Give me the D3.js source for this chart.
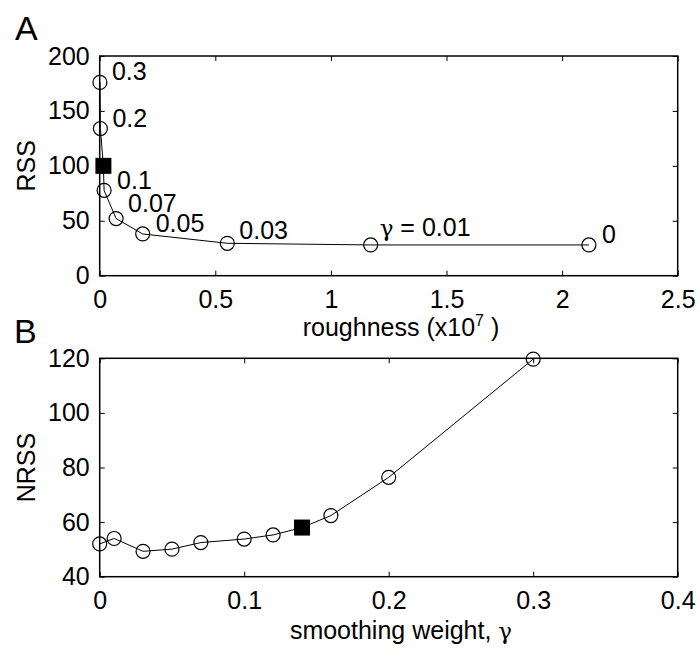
<!DOCTYPE html>
<html>
<head>
<meta charset="utf-8">
<script src="https://cdn.jsdelivr.net/npm/d3@7"></script>
<style>
  html, body { margin: 0; padding: 0; background: #fff; }
  svg { display: block; font-family: "Liberation Sans", Arial, Helvetica, sans-serif; }
  .tick text { font-size: 25px; fill: #000; }
  .tick line { stroke: #000; stroke-width: 1; }
  .domain { display: none; }
</style>
</head>
<body>
<svg id="fig" width="700" height="649"></svg>
<script>
// Panel A: RSS versus roughness for a range of smoothing weights
const gammaA    = [0.3, 0.2, 0.14, 0.1, 0.07, 0.05, 0.03, 0.01, 0];
const roughness = [0.001, 0.003, 0.016, 0.019, 0.071, 0.186, 0.552, 1.172, 2.116]; // x10^7
const rss       = [176, 134, 100, 77.7, 52, 38, 29.5, 28, 28];
const labelsA   = ["0.3", "0.2", "", "0.1", "0.07", "0.05", "0.03", "0.01", "0"];

// Panel B: NRSS versus smoothing weight
const gammaB = [0, 0.01, 0.03, 0.05, 0.07, 0.1, 0.12, 0.14, 0.16, 0.2, 0.3];
const nrss   = [52, 54, 49.3, 50.1, 52.5, 53.8, 55.3, 58, 62.4, 76.4, 119.7];

// chosen smoothing weight (filled square)
const chosenGamma = 0.14;

// tick values
const ticksAx = [0, 0.5, 1, 1.5, 2, 2.5];
const ticksAy = [0, 50, 100, 150, 200];
const ticksBx = [0, 0.1, 0.2, 0.3, 0.4];
const ticksBy = [40, 60, 80, 100, 120];

const svg = d3.select("#fig");
const fmt = d3.format("~g");

const left = 99.7, right = 677.7;
const xA = d3.scaleLinear().domain([0, 2.5]).range([left, right]);
const yA = d3.scaleLinear().domain([0, 200]).range([275.7, 56]);
const xB = d3.scaleLinear().domain([0, 0.4]).range([left, right]);
const yB = d3.scaleLinear().domain([40, 120]).range([576.7, 358.3]);

function frame(x, y, tx, ty) {
  const [x0, x1] = x.range(), [y0, y1] = y.range();
  const g = svg.append("g");
  g.append("g").attr("transform", `translate(0,${y0})`)
    .call(d3.axisBottom(x).tickValues(tx).tickFormat(fmt).tickSizeInner(-5).tickSizeOuter(0).tickPadding(14.5));
  g.append("g").attr("transform", `translate(0,${y1})`)
    .call(d3.axisTop(x).tickValues(tx).tickFormat("").tickSizeInner(-5).tickSizeOuter(0));
  g.append("g").attr("transform", `translate(${x0},0)`)
    .call(d3.axisLeft(y).tickValues(ty).tickFormat(fmt).tickSizeInner(-5).tickSizeOuter(0).tickPadding(10));
  g.append("g").attr("transform", `translate(${x1},0)`)
    .call(d3.axisRight(y).tickValues(ty).tickFormat("").tickSizeInner(-5).tickSizeOuter(0));
  g.append("rect")
    .attr("x", x0).attr("y", y1).attr("width", x1 - x0).attr("height", y0 - y1)
    .attr("fill", "none").attr("stroke", "#000").attr("stroke-width", 1.5);
}

function series(xs, ys, gs, x, y) {
  const pts = xs.map((v, i) => ({ x: v, y: ys[i], g: gs[i] }));
  svg.append("path")
    .datum(pts)
    .attr("d", d3.line().x(d => x(d.x)).y(d => y(d.y)))
    .attr("fill", "none").attr("stroke", "#000").attr("stroke-width", 1);
  svg.append("g").selectAll("circle")
    .data(pts.filter(d => d.g !== chosenGamma))
    .join("circle")
    .attr("cx", d => x(d.x)).attr("cy", d => y(d.y)).attr("r", 7)
    .attr("fill", "none").attr("stroke", "#000").attr("stroke-width", 1.2);
  const sq = 16;
  svg.append("g").selectAll("rect")
    .data(pts.filter(d => d.g === chosenGamma))
    .join("rect")
    .attr("x", d => x(d.x) - sq / 2).attr("y", d => y(d.y) - sq / 2)
    .attr("width", sq).attr("height", sq).attr("fill", "#000");
  return pts;
}

// ---- panel A ----
frame(xA, yA, ticksAx, ticksAy);
const ptsA = series(roughness, rss, gammaA, xA, yA);

// label offsets from each marker (dx, dy to baseline)
const labelShift = [[12, -2], [12, -2], [0, 0], [13, -1], [12, -7], [13, -2], [12, -4], [9, -9], [13, -2]];
const lab = svg.append("g").attr("font-size", 25);
ptsA.forEach((d, i) => {
  if (!labelsA[i]) return;
  const t = lab.append("text")
    .attr("x", xA(d.x) + labelShift[i][0])
    .attr("y", yA(d.y) + labelShift[i][1]);
  if (d.g === 0.01) {
    t.append("tspan").attr("font-family", "'DejaVu Serif', 'Liberation Serif', serif").attr("font-size", 23).text("γ");
    t.append("tspan").text(" = " + labelsA[i]);
  } else {
    t.text(labelsA[i]);
  }
});

// ---- panel B ----
frame(xB, yB, ticksBx, ticksBy);
series(gammaB, nrss, gammaB, xB, yB);

// ---- titles and axis labels ----
svg.append("text").attr("x", 15).attr("y", 39.5).attr("font-size", 34).text("A");
svg.append("text").attr("x", 14).attr("y", 343).attr("font-size", 34).text("B");

svg.append("text")
  .attr("transform", `translate(35,${(yA.range()[0] + yA.range()[1]) / 2}) rotate(-90)`)
  .attr("text-anchor", "middle").attr("font-size", 25).text("RSS");
svg.append("text")
  .attr("transform", `translate(35,${(yB.range()[0] + yB.range()[1]) / 2}) rotate(-90)`)
  .attr("text-anchor", "middle").attr("font-size", 25).text("NRSS");

const xlA = svg.append("text").attr("x", 401).attr("y", 336).attr("text-anchor", "middle").attr("font-size", 25);
xlA.append("tspan").text("roughness (x10");
xlA.append("tspan").attr("font-size", 16).attr("dy", -10).text("7");
xlA.append("tspan").attr("dy", 10).text(" )");

const xlB = svg.append("text").attr("x", 401).attr("y", 639).attr("text-anchor", "middle").attr("font-size", 25);
xlB.append("tspan").text("smoothing weight, ");
xlB.append("tspan").attr("font-family", "'DejaVu Serif', 'Liberation Serif', serif").attr("font-size", 23).text("γ");
</script>
</body>
</html>
